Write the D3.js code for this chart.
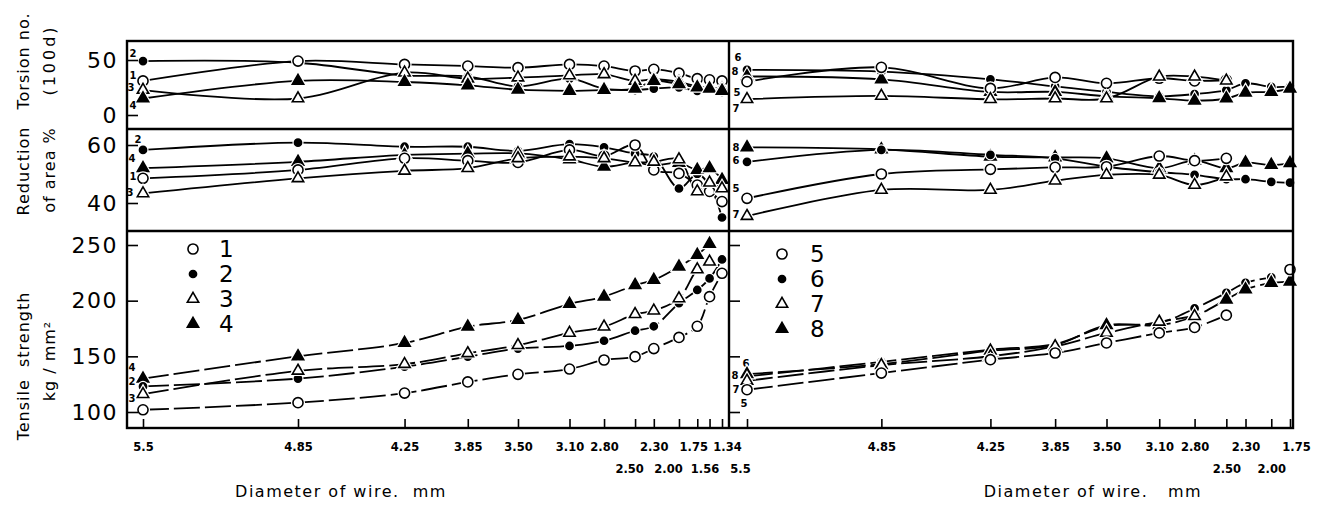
<!DOCTYPE html>
<html>
<head>
<meta charset="utf-8">
<script src="https://cdn.jsdelivr.net/npm/d3@7"></script>
<style>
  body { margin: 0; background: #fff; }
  svg text { font-family: "DejaVu Sans", sans-serif; fill: #000; }
</style>
</head>
<body>
<div id="chart"></div>
<script>
// wire diameters (mm) at each drawing pass
const diamLeft = [5.5, 4.85, 4.25, 3.85, 3.50, 3.10, 2.80, 2.50, 2.30, 2.00, 1.75, 1.56, 1.34];
const diamRight = [5.5, 4.85, 4.25, 3.85, 3.50, 3.10, 2.80, 2.50, 2.30, 2.00, 1.75];
const tickLabelsLeft = ["5.5", "4.85", "4.25", "3.85", "3.50", "3.10", "2.80", "2.50", "2.30", "2.00", "1.75", "1.56", "1.34"];
const tickLabelsRight = ["5.5", "4.85", "4.25", "3.85", "3.50", "3.10", "2.80", "2.50", "2.30", "2.00", "1.75"];
const lowerRowLeft = ["2.50", "2.00", "1.56"];
const lowerRowRight = ["5.5", "2.50", "2.00"];

// torsion no. (100d), wires 1-4
const torsion1 = [31, 49, 46, 44.5, 43, 46, 44.5, 40, 41.5, 38, 33, 32, 31];
const torsion2 = [49, 47.5, 36, 35, 26, 33, 24, 22.7, 24, 25, 22, 23, 21];
const torsion3 = [22.7, 15, 38.5, 33, 34, 36, 37, 31, 32.5, 30, 26, 25, 24];
const torsion4 = [15, 31, 30, 27, 23, 22, 22.7, 24, 31, 28, 25, 24, 22];
// torsion, wires 5-8
const torsion5 = [30.3, 43.3, 24.2, 34.2, 28.8, 33.4, 31, 31.8, null, null, null];
const torsion6 = [41, 39.4, 32.4, 26, 21, 17, 19, 22.7, 28.8, 25.5, 25.8];
const torsion7 = [14.3, 17.3, 14.3, 15, 15, 34.8, 34.8, 31.2, null, null, null];
const torsion8 = [35, 32.4, 21, 21, 17, 15.2, 13, 15, 20.3, 21, 24];

// reduction of area %, wires 1-4
const reduction1 = [48.5, 51.4, 55.4, 54.6, 54, 58.3, 56.2, 60, 51.4, 50.2, 46.2, 44, 40.5];
const reduction2 = [58.3, 60.8, 59.4, 59.4, 58, 60.3, 59.2, 57, 56, 45, 50, 46, 35];
const reduction3 = [43.3, 48.5, 51.1, 52, 55.4, 56, 55.4, 54, 54.2, 55, 44, 47, 45];
const reduction4 = [52, 54.2, 56.6, 57, 57.1, 55, 52.5, 53.9, 53, 53.8, 51.4, 52, 48];
// reduction of area, wires 5-8
const reduction5 = [41.6, 50, 51.6, 52.3, 52.5, 56.2, 54.6, 55.4, null, null, null];
const reduction6 = [54.2, 58.3, 56.6, 55.4, 52.5, 50.6, 49.7, 48.2, 48.2, 47.3, 47];
const reduction7 = [35.5, 44.5, 44.5, 47.7, 49.7, 49.7, 46.2, 49.1, null, null, null];
const reduction8 = [59.2, 58.5, 56, 55.7, 55.4, 52, 54.6, 52, 53.9, 53.1, 53.7];

// tensile strength kg/mm2, wires 1-4
const tensile1 = [102, 108.4, 117, 127, 133.8, 138.6, 146.7, 149.7, 157, 167, 177, 203.6, 224.6];
const tensile2 = [123, 130, 140.7, 149.7, 157, 159.3, 164, 173, 177, 197.7, 209.6, 220, 237];
const tensile3 = [116, 137, 143, 152.7, 160, 171, 176.6, 187.8, 191, 202, 228, 235, null];
const tensile4 = [130, 150, 162, 176.6, 182.7, 197, 203.6, 214, 218.6, 230.5, 241, 251, null];
// tensile, wires 5-8
const tensile5 = [120, 135, 147, 153, 162, 171, 176, 187, null, null, 228];
const tensile6 = [132, 145, 156, 161, 177, 180, 193, 207, 216, 221, null];
const tensile7 = [128, 142, 150, 159, 171, 181, 186, null, null, null, null];
const tensile8 = [134, 143, 155, 160, 178, 178, 186, 201, 210, 216, 217];

const legendLeft = [1, 2, 3, 4];
const legendRight = [5, 6, 7, 8];

// ---- layout ----
const W = 1329, H = 527;
const L0 = 127, MID = 729, R1 = 1293;
const TOP = 41, ROW1 = 129, ROW2 = 231, BOT = 428;

// the x axis is linear in area reduction from the 5.5 mm rod
const ra = d => 1 - (d / 5.5) ** 2;

const xLeft = d3.scaleLinear()
    .domain([0, ra(4.85), ra(1.34)])
    .range([L0 + 16, L0 + 171, MID - 7]);
const xRight = d3.scaleLinear()
    .domain([0, ra(1.75)])
    .range([MID + 18, R1 - 3]);

const yTorsion = d3.scaleLinear().domain([0, 50]).range([115, 60]);
const yReduction = d3.scaleLinear().domain([40, 60]).range([203, 145]);
const yTensile = d3.scaleLinear().domain([100, 250]).range([412, 245]);

const svg = d3.select("#chart").append("svg")
    .attr("width", W)
    .attr("height", H);

// marker per wire: open circle, filled circle, open triangle, filled triangle
function markerOf(wire) {
    const k = (wire - 1) % 4;
    return {
        type: k < 2 ? d3.symbolCircle : d3.symbolTriangle,
        size: [80, 40, 56, 56][k],
        filled: k === 1 || k === 3
    };
}

function drawMarker(g, wire, px, py) {
    const m = markerOf(wire);
    const path = d3.symbol().type(m.type).size(m.size)();
    g.append("path")
        .attr("d", path)
        .attr("transform", "translate(" + px + "," + py + ")")
        .attr("fill", "#fff")
        .attr("stroke", "#fff")
        .attr("stroke-width", 4);
    g.append("path")
        .attr("d", path)
        .attr("transform", "translate(" + px + "," + py + ")")
        .attr("fill", m.filled ? "#000" : "#fff")
        .attr("stroke", "#000")
        .attr("stroke-width", 1.6);
}

const panels = [
    {x: xLeft, y: yTorsion, diam: diamLeft, top: TOP, bottom: ROW1, left: L0, right: MID,
     series: [[2, torsion2], [1, torsion1], [3, torsion3], [4, torsion4]],
     labels: {2: [-10, -8], 1: [-10, -5], 3: [-12, -3], 4: [-10, 7]}},
    {x: xRight, y: yTorsion, diam: diamRight, top: TOP, bottom: ROW1, left: MID, right: R1,
     series: [[6, torsion6], [8, torsion8], [5, torsion5], [7, torsion7]],
     labels: {6: [-9, -12], 8: [-12, -5], 5: [-10, 11], 7: [-11, 9]}},
    {x: xLeft, y: yReduction, diam: diamLeft, top: ROW1, bottom: ROW2, left: L0, right: MID,
     series: [[2, reduction2], [4, reduction4], [1, reduction1], [3, reduction3]],
     labels: {2: [-5, -10], 4: [-11, -10], 1: [-10, -2], 3: [-13, -1]}},
    {x: xRight, y: yReduction, diam: diamRight, top: ROW1, bottom: ROW2, left: MID, right: R1,
     series: [[8, reduction8], [6, reduction6], [5, reduction5], [7, reduction7]],
     labels: {8: [-11, 0], 6: [-11, -1], 5: [-11, -10], 7: [-11, -2]}},
    {x: xLeft, y: yTensile, diam: diamLeft, top: ROW2, bottom: BOT, left: L0, right: MID, dash: "26,5",
     series: [[4, tensile4], [2, tensile2], [3, tensile3], [1, tensile1]],
     labels: {4: [-11, -11], 2: [-11, -5], 3: [-11, 4]}},
    {x: xRight, y: yTensile, diam: diamRight, top: ROW2, bottom: BOT, left: MID, right: R1, dash: "26,5",
     series: [[6, tensile6], [8, tensile8], [7, tensile7], [5, tensile5]],
     labels: {6: [-1, -13], 8: [-12, 1], 7: [-11, 9], 5: [-3, 14]}}
];

panels.forEach((p, pi) => {
    const clipId = "clip" + pi;
    svg.append("clipPath").attr("id", clipId)
        .append("rect")
        .attr("x", p.left).attr("y", p.top)
        .attr("width", p.right - p.left).attr("height", p.bottom - p.top);

    const g = svg.append("g").attr("clip-path", "url(#" + clipId + ")");
    const line = d3.line()
        .defined(d => d.v !== null)
        .x(d => p.x(ra(d.d)))
        .y(d => p.y(d.v))
        .curve(d3.curveCatmullRom.alpha(0.5));

    p.series.forEach(([wire, values]) => {
        const data = values.map((v, i) => ({d: p.diam[i], v: v}));
        g.append("path")
            .datum(data)
            .attr("d", line)
            .attr("fill", "none")
            .attr("stroke", "#000")
            .attr("stroke-width", 1.8)
            .attr("stroke-dasharray", p.dash || null);
    });

    const mg = svg.append("g");
    p.series.forEach(([wire, values]) => {
        values.forEach((v, i) => {
            if (v === null) return;
            drawMarker(mg, wire, p.x(ra(p.diam[i])), p.y(v));
        });
        const off = p.labels[wire];
        if (off) {
            mg.append("text")
                .attr("x", p.x(0) + off[0])
                .attr("y", p.y(values[0]) + off[1])
                .attr("text-anchor", "middle")
                .attr("dominant-baseline", "central")
                .attr("font-size", 10)
                .attr("font-weight", "bold")
                .text(wire);
        }
    });
});

// frames
const frame = svg.append("g").attr("fill", "none").attr("stroke", "#000").attr("stroke-width", 2.4);
frame.append("rect").attr("x", L0).attr("y", TOP).attr("width", R1 - L0).attr("height", BOT - TOP);
frame.append("line").attr("x1", MID).attr("x2", MID).attr("y1", TOP).attr("y2", BOT);
[ROW1, ROW2].forEach(yy => {
    frame.append("line").attr("x1", L0).attr("x2", R1).attr("y1", yy).attr("y2", yy);
});

// x axes with two rows of labels (crowded labels nudged sideways as in the print)
const labelNudge = {left: {"1.75": -4, "1.34": 5, "2.50": -6, "2.00": -11, "1.56": -5}, right: {"5.5": -7, "1.75": 6}};

function xAxis(scale, diams, labels, lower, nudge) {
    const fmt = new Map(diams.map((d, i) => [ra(d), labels[i]]));
    const g = svg.append("g")
        .attr("transform", "translate(0," + BOT + ")")
        .call(d3.axisBottom(scale)
            .tickValues(diams.map(ra))
            .tickFormat(v => fmt.get(v))
            .tickSizeInner(-9)
            .tickSizeOuter(0)
            .tickPadding(15));
    g.select(".domain").remove();
    g.selectAll(".tick line").attr("stroke-width", 1.6);
    g.selectAll(".tick text")
        .attr("font-size", 11.5)
        .attr("font-weight", "bold")
        .attr("font-family", "DejaVu Sans")
        .attr("x", function() { return nudge[this.textContent] || 0; })
        .attr("y", function() {
            return lower.includes(this.textContent) ? 37 : 15;
        });
}
xAxis(xLeft, diamLeft, tickLabelsLeft, lowerRowLeft, labelNudge.left);
xAxis(xRight, diamRight, tickLabelsRight, lowerRowRight, labelNudge.right);

// y axes
function yAxis(scale, values, x, showLabels) {
    const g = svg.append("g")
        .attr("transform", "translate(" + x + ",0)")
        .call(d3.axisLeft(scale)
            .tickValues(values)
            .tickFormat(showLabels ? d3.format("d") : "")
            .tickSizeInner(-11)
            .tickSizeOuter(0)
            .tickPadding(9));
    g.select(".domain").remove();
    g.selectAll(".tick line").attr("stroke-width", 1.6);
    g.selectAll(".tick text")
        .attr("font-size", 22)
        .attr("letter-spacing", 1.5)
        .attr("font-family", "DejaVu Sans");
}
yAxis(yTorsion, [0, 50], L0, true);
yAxis(yReduction, [40, 60], L0, true);
yAxis(yTensile, [100, 150, 200, 250], L0, true);
yAxis(yTensile, [100, 150, 200, 250], MID, false);

// y titles, two rotated lines each
const yTitles = [
    {lines: ["Torsion no.", "(100d)"], cy: [61, 60]},
    {lines: ["Reduction", "of area %"], cy: [171, 170]},
    {lines: ["Tensile  strength", "kg / mm\u00B2"], cy: [366, 361]}
];
yTitles.forEach(t => {
    t.lines.forEach((txt, i) => {
        svg.append("text")
            .attr("transform", "translate(" + (29 + i * 26) + "," + t.cy[i] + ") rotate(-90)")
            .attr("text-anchor", "middle")
            .attr("font-size", 16)
            .attr("letter-spacing", i === 1 && t.cy[0] < 100 ? 3 : 1)
            .style("white-space", "pre")
            .text(txt);
    });
});

// x titles
[[341, "Diameter of wire.  mm"], [1093, "Diameter of wire.   mm"]].forEach(([cx, txt]) => {
    svg.append("text")
        .attr("x", cx).attr("y", 497)
        .attr("text-anchor", "middle")
        .attr("font-size", 16)
        .attr("letter-spacing", 1.5)
        .style("white-space", "pre")
        .text(txt);
});

// legends
function legend(items, mx, tx, y0) {
    const g = svg.append("g");
    items.forEach((wire, i) => {
        const yy = y0 + i * 25;
        drawMarker(g, wire, mx, yy);
        g.append("text")
            .attr("x", tx).attr("y", yy)
            .attr("dominant-baseline", "central")
            .attr("font-size", 23)
            .text(wire);
    });
}
legend(legendLeft, 193, 219, 249);
legend(legendRight, 782, 810, 254);
</script>
</body>
</html>
